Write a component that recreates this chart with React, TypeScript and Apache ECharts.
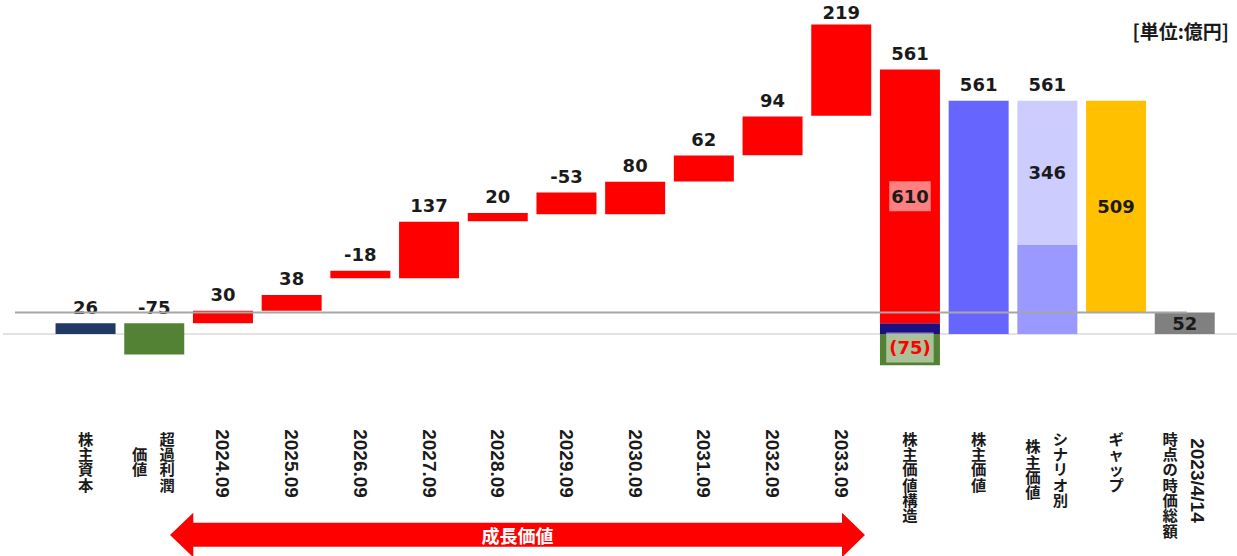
import React, { useEffect, useRef } from 'react';
import * as echarts from 'echarts';

// ---- categories / axis label texts ----
const categories = [
  '株主資本', '超過利潤価値', '2024.09', '2025.09', '2026.09', '2027.09', '2028.09',
  '2029.09', '2030.09', '2031.09', '2032.09', '2033.09', '株主価値構造', '株主価値',
  'シナリオ別株主価値', 'ギャップ', '2023/4/14時点の時価総額',
];
// upright (vertically stacked) main / right-hand column of each label
const uprightMain = [
  '株主資本', '超過利潤', '', '', '', '', '', '', '', '', '', '',
  '株主価値構造', '株主価値', 'シナリオ別', 'ギャップ', '',
];
// upright left-hand column (second line of a two-line label)
const uprightLeft = [
  '', '価値', '', '', '', '', '', '', '', '', '', '',
  '', '', '株主価値', '', '時点の時価総額',
];
// sideways (rotated) labels
const rotatedLabels = [
  '', '', '2024.09', '2025.09', '2026.09', '2027.09', '2028.09', '2029.09', '2030.09',
  '2031.09', '2032.09', '2033.09', '', '', '', '', '2023/4/14',
];

// ---- values (億円) ----
const equity = 26;
const excessProfitValue = -75;
const growthLabels = [30, 38, -18, 137, 20, -53, 80, 62, 94, 219];
const growthBases = [26, 56, 134, 134, 271, 288, 288, 367, 430, 525];
const growthHeights = [30, 38, 18, 136, 20, 52, 78, 62, 93, 219];
const structureGrowth = 610;
const structureExcess = -75;
const structureValue = 561;
const shareholderValue = 561;
const scenarioLower = 215;
const scenarioUpper = 346;
const scenarioTotal = 561;
const gapValue = 509;
const marketCap = 52;

const N = categories.length;
const zeros = () => new Array(N).fill(0) as any[];
const blank = () => new Array(N).fill('-') as any[];

const CJK = 'Noto Sans CJK JP';
const NUM = 'DejaVu Sans';
const TXT = '#1a1a1a';
const ROW = 15.3;

const chars = (s: string) => Array.from(s);

const valOf = (p: any) => (typeof p.value === 'number' ? p.value : Number(p.value));

export default function App() {
  const ref = useRef<HTMLDivElement>(null);
  useEffect(() => {
    document.body.style.margin = '0';
    const chart = echarts.init(ref.current!, null, { renderer: 'svg' });

    const base = zeros();
    base[1] = equity + excessProfitValue;
    growthBases.forEach((v, i) => (base[i + 2] = v));
    base[15] = marketCap;

    const navy = zeros();
    navy[0] = { value: equity, itemStyle: { color: '#203864' } };
    navy[12] = { value: equity, itemStyle: { color: '#1B1080' }, label: { show: false } };

    const green = zeros();
    green[1] = -excessProfitValue;

    const red = zeros();
    growthHeights.forEach((v, i) => (red[i + 2] = v));
    // last growth year sits close to the top edge: label pulled nearer to its bar
    red[11] = { value: growthHeights[9], label: { distance: 5 } };
    red[12] = {
      value: structureGrowth,
      label: {
        position: 'inside',
        backgroundColor: 'rgba(255,255,255,0.5)',
        padding: [4, 2, 4, 2],
        lineHeight: 22,
      },
    };

    const blue = zeros();
    blue[13] = shareholderValue;
    const lower = zeros();
    lower[14] = scenarioLower;
    const upper = zeros();
    upper[14] = scenarioUpper;
    const orange = zeros();
    orange[15] = gapValue;
    const gray = zeros();
    gray[16] = marketCap;
    const totals = zeros();
    totals[12] = { value: 0, label: { show: true, formatter: String(structureValue) } };
    totals[14] = { value: 0, label: { show: true, formatter: String(scenarioTotal) } };
    const structGreen = blank();
    structGreen[12] = structureExcess;

    const lbl = { fontFamily: NUM, fontWeight: 'bold', fontSize: 18, color: TXT };
    const topLbl = { show: true, position: 'top', distance: 9, lineHeight: 14, ...lbl };
    const plain = (p: any) => (valOf(p) ? String(valOf(p)) : '');
    const common = {
      type: 'bar',
      barWidth: 60,
      barGap: '-100%',
      stack: 'a',
      stackStrategy: 'all',
      silent: true,
    };

    const cjkRich = {
      f: { fontFamily: CJK, fontWeight: 'bold', fontSize: ROW, lineHeight: ROW, color: TXT },
      r: { width: 26, fontSize: 1, lineHeight: ROW },
      l: { width: 29, fontSize: 1, lineHeight: ROW },
      v1: { fontSize: 1, lineHeight: ROW },
      v2: { fontSize: 1, lineHeight: ROW / 2 },
    };
    const hiddenAxis = {
      type: 'category',
      data: categories,
      position: 'bottom',
      axisLine: { show: false },
      axisTick: { show: false },
      splitLine: { show: false },
    };

    chart.setOption({
      animation: false,
      textStyle: { fontFamily: NUM },
      grid: { left: 51.2, width: 1167.9, top: 1.3, height: 415.9 },
      xAxis: [
        {
          ...hiddenAxis,
          axisLabel: {
            interval: 0,
            margin: 13,
            formatter: (_v: string, i: number) => {
              const m = uprightMain[i];
              if (!m) return '';
              const twoCol = !!uprightLeft[i];
              return chars(m).map((c) => (twoCol ? `{r| }{f|${c}}` : `{f|${c}}`)).join('\n');
            },
            rich: cjkRich,
          },
        },
        {
          ...hiddenAxis,
          axisLabel: {
            interval: 0,
            margin: 13,
            formatter: (_v: string, i: number) => {
              const L = uprightLeft[i];
              if (!L) return '';
              const mainLen = chars(uprightMain[i]).length;
              const diff = Math.max(0, mainLen - chars(L).length);
              const head = diff === 0 ? [] : [diff === 1 ? '{v2| }' : '{v1| }'];
              return head.concat(chars(L).map((c) => `{f|${c}}{l| }`)).join('\n');
            },
            rich: cjkRich,
          },
        },
        {
          ...hiddenAxis,
          axisLabel: {
            interval: 0,
            margin: 12,
            rotate: -90,
            formatter: (_v: string, i: number) => {
              const t = rotatedLabels[i];
              if (!t) return '';
              if (uprightLeft[i]) return `{g| }{n|${t}}\n{g| }`;
              return `{n|${t}}`;
            },
            rich: {
              n: { fontFamily: 'Liberation Sans', fontWeight: 'bold', fontSize: 19, lineHeight: 25, color: TXT },
              g: { width: 9, fontSize: 1, lineHeight: 25 },
            },
          },
        },
      ],
      yAxis: { type: 'value', min: -200, max: 800, show: false, splitLine: { show: false } },
      series: [
        { ...common, name: 'base', data: base, itemStyle: { color: 'transparent' } },
        { ...common, name: 'equity', data: navy, label: { ...topLbl, formatter: plain } },
        {
          ...common,
          name: 'excess',
          data: green,
          itemStyle: { color: '#548235' },
          label: { ...topLbl, formatter: (p: any) => (valOf(p) ? String(excessProfitValue) : '') },
        },
        {
          ...common,
          name: 'growth',
          data: red,
          itemStyle: { color: '#FF0000' },
          label: {
            ...topLbl,
            formatter: (p: any) => {
              if (!valOf(p)) return '';
              if (p.dataIndex === 12) return String(structureGrowth);
              return String(growthLabels[p.dataIndex - 2]);
            },
          },
        },
        {
          ...common,
          name: 'value',
          data: blue,
          itemStyle: { color: '#6666FF' },
          label: { ...topLbl, formatter: plain },
        },
        { ...common, name: 'scenarioLower', data: lower, itemStyle: { color: '#9999FF' } },
        {
          ...common,
          name: 'scenarioUpper',
          data: upper,
          itemStyle: { color: '#CCCCFF' },
          label: { show: true, position: 'inside', ...lbl, formatter: plain },
        },
        {
          ...common,
          name: 'gap',
          data: orange,
          itemStyle: { color: '#FFC000' },
          label: { show: true, position: 'inside', ...lbl, formatter: plain },
        },
        {
          ...common,
          name: 'marketCap',
          data: gray,
          itemStyle: { color: '#808080' },
          label: { show: true, position: 'inside', ...lbl, formatter: plain },
        },
        {
          ...common,
          name: 'totals',
          data: totals,
          itemStyle: { color: 'transparent' },
          label: { ...topLbl, show: false, formatter: () => '' },
        },
        {
          type: 'bar',
          name: 'structureExcess',
          barWidth: 60,
          barGap: '-100%',
          stack: 'b',
          silent: true,
          data: structGreen,
          itemStyle: { color: '#548235' },
          label: {
            show: true,
            position: 'inside',
            ...lbl,
            color: '#FF0000',
            formatter: () => `(${-structureExcess})`,
            backgroundColor: 'rgba(255,255,255,0.5)',
            padding: [4, 3, 4, 3],
            lineHeight: 22,
            offset: [0, -2],
          },
        },
      ],
    });

    const y0 = chart.convertToPixel({ yAxisIndex: 0 }, 0) as number;
    const y52 = chart.convertToPixel({ yAxisIndex: 0 }, marketCap) as number;
    chart.setOption({
      graphic: [
        { type: 'line', z: 1, silent: true, shape: { x1: 3, y1: y0, x2: 1237, y2: y0 }, style: { stroke: '#C8C8C8', lineWidth: 1 } },
        { type: 'line', z: 100, silent: true, shape: { x1: 15, y1: y52, x2: 1187, y2: y52 }, style: { stroke: '#A6A6A6', lineWidth: 2 } },
        {
          type: 'polygon',
          z: 5,
          silent: true,
          shape: {
            points: [
              [170, 535], [193.3, 512.7], [193.3, 522.7], [842, 522.7], [842, 512.7],
              [865, 535], [842, 557.3], [842, 546.7], [193.3, 546.7], [193.3, 557.3],
            ],
          },
          style: { fill: '#FF0000' },
        },
        {
          type: 'text',
          z: 6,
          x: 517.5,
          y: 535,
          style: { text: '成長価値', fill: '#FFFFFF', fontFamily: CJK, fontWeight: 'bold', fontSize: 18, align: 'center', verticalAlign: 'middle' },
        },
        {
          type: 'text',
          z: 6,
          x: 1229,
          y: 30,
          style: { text: '[単位:億円]', fill: TXT, fontFamily: CJK, fontWeight: 'bold', fontSize: 19, align: 'right', verticalAlign: 'middle' },
        },
      ],
    });

    return () => chart.dispose();
  }, []);
  return <div ref={ref} style={{ width: 1237, height: 556 }} />;
}
